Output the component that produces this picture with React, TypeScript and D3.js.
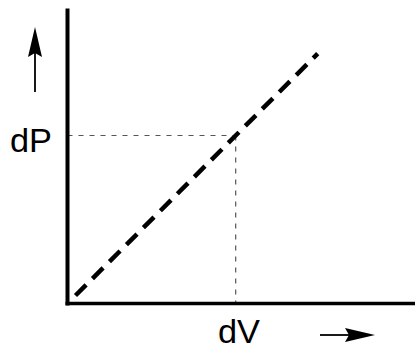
import React from "react";
import * as d3 from "d3";

const W = 417;
const H = 353;
const xDomain = [0, 100];
const yDomain = [0, 85];
const lineV = [2.3, 72];
const lineP = [2.3, 72];
const pointV = 48.4;
const pointP = 48.4;
const xLabel = "dV";
const yLabel = "dP";

export default function App() {
  const x = d3.scaleLinear().domain(xDomain).range([67.5, 415]);
  const y = d3.scaleLinear().domain(yDomain).range([303.5, 8.5]);
  const pts: [number, number][] = lineV.map((v, i) => [v, lineP[i]]);
  const line = d3
    .line<[number, number]>()
    .x((d) => x(d[0]))
    .y((d) => y(d[1]));
  const px = x(pointV);
  const py = y(pointP);
  return (
    <svg
      width={W}
      height={H}
      style={{ position: "absolute", left: 0, top: 0, background: "#fff" }}
      fontFamily="Liberation Sans, Arial, sans-serif"
    >
      <line x1={x(0)} x2={px} y1={py} y2={py} stroke="#555" strokeWidth={1.2} strokeDasharray="5,6" />
      <line x1={px} x2={px} y1={py} y2={y(0)} stroke="#555" strokeWidth={1.2} strokeDasharray="5,6" />
      <path d={line(pts) || ""} fill="none" stroke="#000" strokeWidth={4.5} strokeDasharray="15,9" />
      <line x1={x(0)} x2={x(0)} y1={y(yDomain[1])} y2={y(0) + 2} stroke="#000" strokeWidth={4} />
      <line x1={x(0) - 2} x2={x(xDomain[1])} y1={y(0)} y2={y(0)} stroke="#000" strokeWidth={3.5} />
      <text x={10} y={152} fontSize={33} fill="#000" textLength={42} lengthAdjust="spacingAndGlyphs">{yLabel}</text>
      <text x={218} y={343} fontSize={33} fill="#000" textLength={42} lengthAdjust="spacingAndGlyphs">{xLabel}</text>
      <line x1={35} x2={35} y1={92} y2={50} stroke="#000" strokeWidth={1.8} />
      <path d="M35,27 L42,57 L35,53 L28,57 Z" fill="#000" />
      <line x1={320} x2={352} y1={335} y2={335} stroke="#000" strokeWidth={1.8} />
      <path d="M375,335 L345,342 L349,335 L345,328 Z" fill="#000" />
    </svg>
  );
}
